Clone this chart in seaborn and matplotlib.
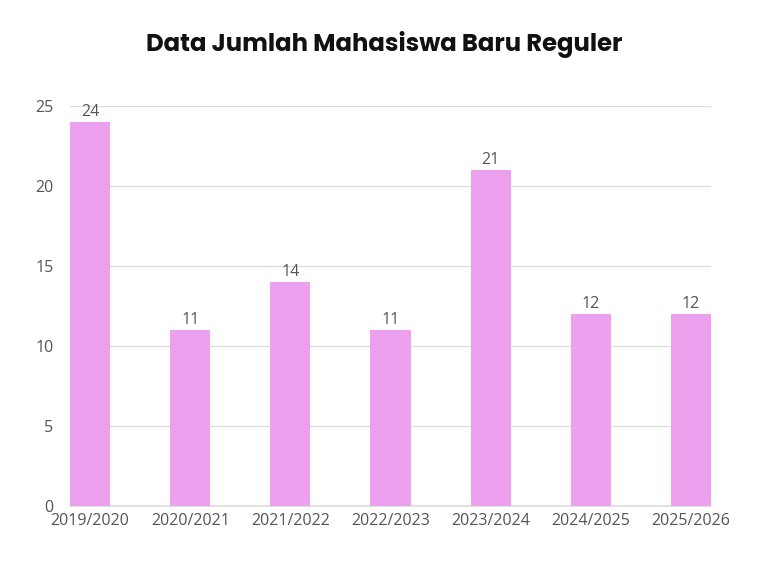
"""Bar chart: Data Jumlah Mahasiswa Baru Reguler."""

import matplotlib.pyplot as plt
import pandas as pd
import seaborn as sns

years = ["2019/2020", "2020/2021", "2021/2022", "2022/2023",
         "2023/2024", "2024/2025", "2025/2026"]
students = [24, 11, 14, 11, 21, 12, 12]
y_ticks = [0, 5, 10, 15, 20, 25]

sns.set_theme(style="white")
plt.rcParams["font.family"] = ["Open Sans", "DejaVu Sans"]

df = pd.DataFrame({"tahun": years, "jumlah": students})

fig = plt.figure(figsize=(7.68, 5.76), dpi=100)
ax = fig.add_axes([70 / 768, 1 - 506 / 576, 641 / 768, 400 / 576])

sns.barplot(data=df, x="tahun", y="jumlah", color="#eda0ee", width=0.4,
            saturation=1, linewidth=0, ax=ax, zorder=3)

# value labels above bars
for i, v in enumerate(students):
    ax.text(i, v + 0.12, str(v), ha="center", va="bottom",
            fontsize=11.5, color="#555555")

ax.set_xlim(-0.2, 6.2)
ax.set_ylim(0, 25)
ax.set_yticks(y_ticks)
ax.yaxis.grid(True, color="#dddddd", linewidth=0.9, zorder=0)
for s in ["top", "right", "left"]:
    ax.spines[s].set_visible(False)
ax.spines["bottom"].set_color("#dddddd")
ax.tick_params(axis="both", length=0, labelsize=11.5, labelcolor="#555555")
ax.tick_params(axis="x", pad=5)
ax.tick_params(axis="y", pad=12)
ax.set_xlabel("")
ax.set_ylabel("")

fig.text(0.5, 1 - 45 / 576, "Data Jumlah Mahasiswa Baru Reguler",
         ha="center", va="center", fontsize=17.5, fontweight="bold",
         family=["Poppins", "DejaVu Sans"], color="#111111")

fig.savefig("out.png", dpi=100)
plt.close(fig)
